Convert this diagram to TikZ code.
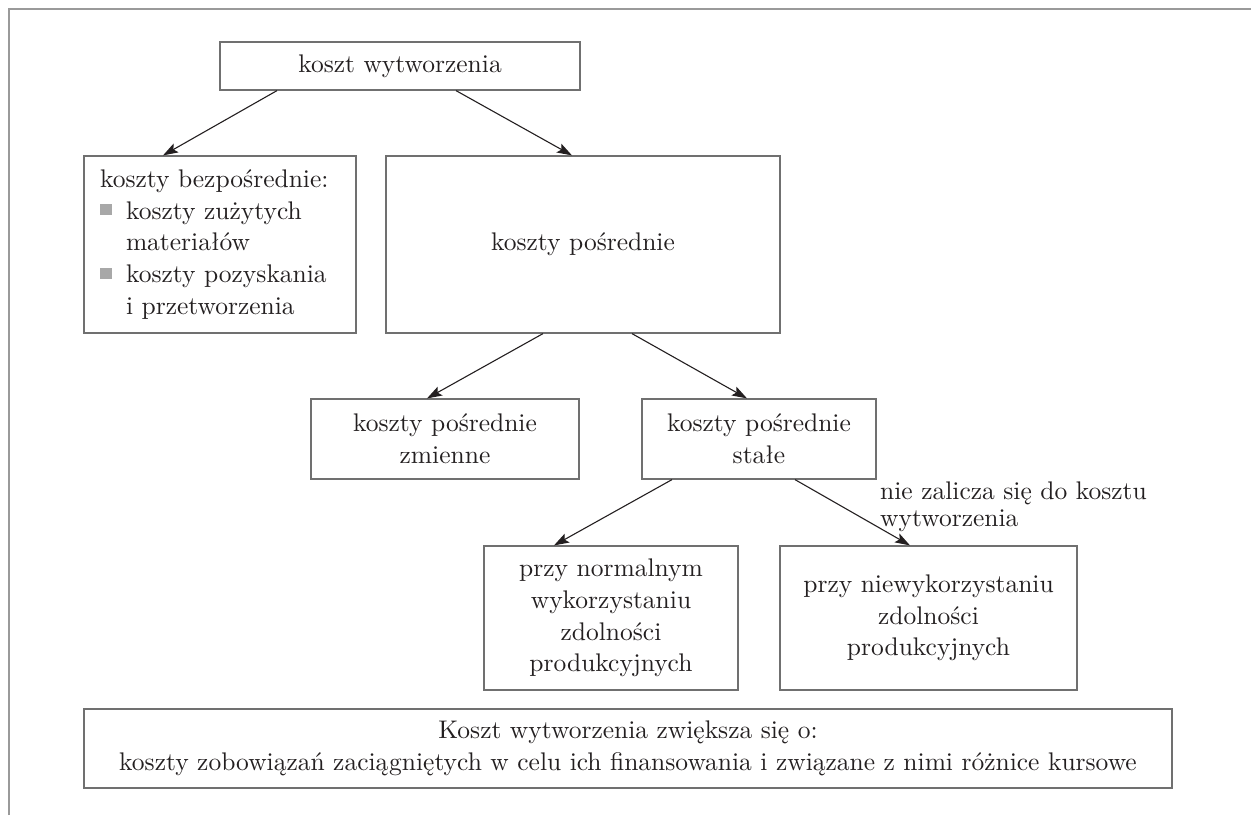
\documentclass[tikz,border=0pt]{standalone}
\usetikzlibrary{arrows.meta}
\definecolor{boxgray}{HTML}{707070}
\definecolor{framegray}{HTML}{9A9A9A}
\definecolor{bulletgray}{HTML}{A8A8A8}
\definecolor{inkc}{HTML}{231F20}
\font\lmbox="[lmroman10-regular]:mapping=tex-text" at 25.5pt
\tikzset{
  box/.style={draw=boxgray, line width=1.2pt, inner sep=0pt, align=center, text=inkc,
    font=\fontsize{25.5}{31.6}\selectfont\lmbox},
  arr/.style={draw=inkc, line width=1.1pt, -{Stealth[length=15pt,width=10pt,inset=3pt]}},
  frame/.style={draw=framegray, line width=1.3pt},
  note/.style={inner sep=0pt, align=left, text=inkc, font=\fontsize{25.5}{27}\selectfont\lmbox}
}
\newcommand{\sqbul}{\makebox[26pt][l]{\textcolor{bulletgray}{\rule[4pt]{12pt}{11pt}}}}
\begin{document}
\begin{tikzpicture}[x=1pt,y=-1pt]
\useasboundingbox (0,0) rectangle (1251,815);
\draw[frame] (9,815) -- (9,9) -- (1251,9);

\node[box, minimum width=360pt, minimum height=48pt] (top) at (400,66) {koszt wytworzenia};
\node[box, minimum width=272pt, minimum height=177pt, text width=240pt, inner xsep=16pt, align=left] (bezp) at (220,244.5)
  {koszty bezpośrednie:\\ \sqbul koszty zużytych\\ \hspace*{26pt}materiałów\\ \sqbul koszty pozyskania\\ \hspace*{26pt}i przetworzenia};
\node[box, minimum width=394pt, minimum height=177pt] (posr) at (583,244.5) {koszty pośrednie};
\node[box, minimum width=268pt, minimum height=80pt] (zm) at (445,439) {koszty pośrednie\\zmienne};
\node[box, minimum width=234pt, minimum height=80pt] (st) at (759,439) {koszty pośrednie\\stałe};
\node[box, minimum width=254pt, minimum height=144pt] (norm) at (611,618) {przy normalnym\\wykorzystaniu\\zdolności\\produkcyjnych};
\node[box, minimum width=297pt, minimum height=144pt] (niew) at (928.5,618) {przy niewykorzystaniu\\zdolności\\produkcyjnych};
\node[box, minimum width=1088pt, minimum height=79pt] (dod) at (628,748.5) {Koszt wytworzenia zwiększa się o:\\koszty zobowiązań zaciągniętych w celu ich finansowania i związane z nimi różnice kursowe};
\node[note, anchor=north west] (uwaga) at (880,482) {nie zalicza się do kosztu\\wytworzenia};

\draw[arr] ([xshift=-123pt]top.south) -- ([xshift=-57pt]bezp.north);
\draw[arr] ([xshift=56pt]top.south) -- ([xshift=-11pt]posr.north);
\draw[arr] ([xshift=-40pt]posr.south) -- ([xshift=-18pt]zm.north);
\draw[arr] ([xshift=49pt]posr.south) -- ([xshift=-12pt]st.north);
\draw[arr] ([xshift=-87pt]st.south) -- ([xshift=-57pt]norm.north);
\draw[arr] ([xshift=36pt]st.south) -- ([xshift=-18.5pt]niew.north);
\end{tikzpicture}
\end{document}
